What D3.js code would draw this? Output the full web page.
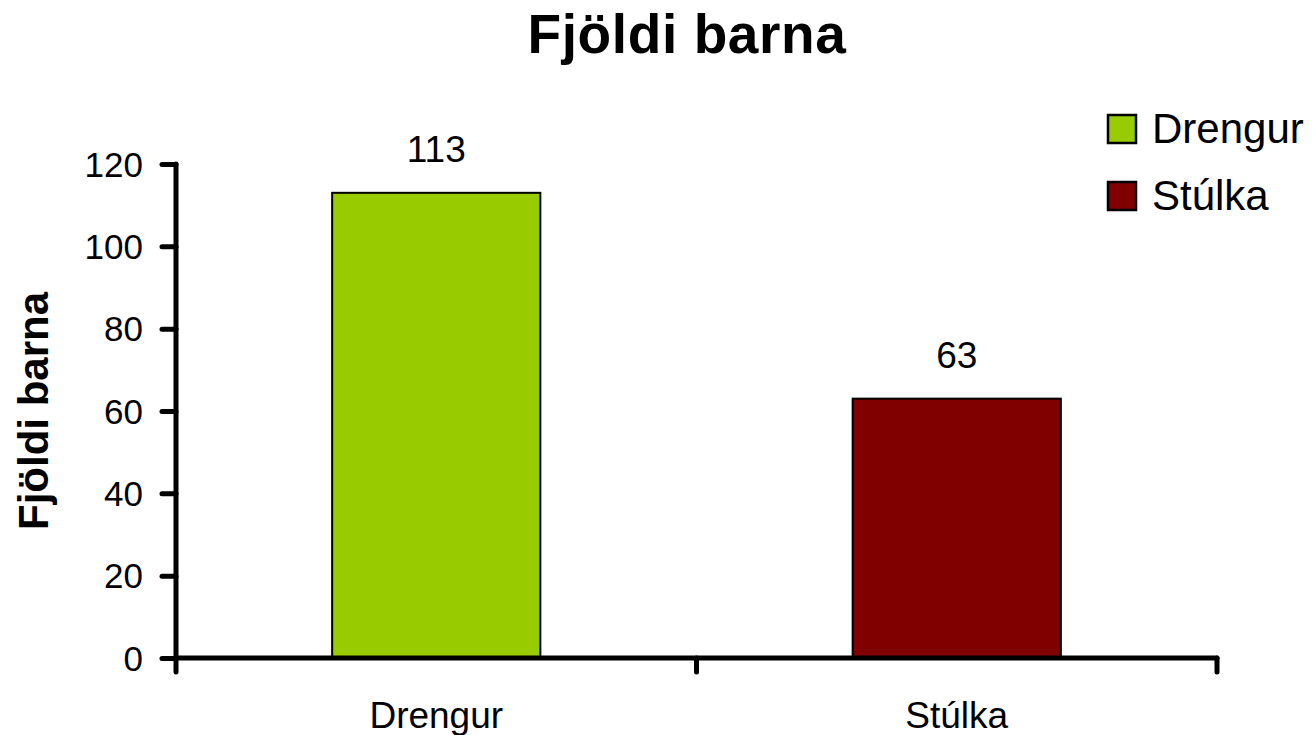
<!DOCTYPE html>
<html>
<head>
<meta charset="utf-8">
<script src="https://cdn.jsdelivr.net/npm/d3@7"></script>
<style>
  html, body { margin: 0; padding: 0; background: #fff; }
  svg { display: block; font-family: "Liberation Sans", Arial, sans-serif; }
</style>
</head>
<body>
<svg id="chart" width="1315" height="735"></svg>
<script>
const categories = ["Drengur", "Stúlka"];
const values = [113, 63];
const colors = ["#99CC00", "#800000"];
const yTicks = [0, 20, 40, 60, 80, 100, 120];
const titleText = "Fjöldi barna";
const yAxisTitle = "Fjöldi barna";

const svg = d3.select("#chart");
const plot = { left: 176, right: 1217, top: 164, bottom: 658 };

const x = d3.scaleBand().domain(categories)
  .range([plot.left, plot.right]).paddingInner(0.6).paddingOuter(0.3);
const xCat = d3.scaleBand().domain(categories).range([plot.left, plot.right]).padding(0);
const y = d3.scaleLinear().domain([0, 120]).range([plot.bottom, plot.top]);

// Title
svg.append("text")
  .attr("x", 687).attr("y", 53)
  .attr("text-anchor", "middle")
  .attr("font-size", 55).attr("font-weight", "bold")
  .attr("letter-spacing", 0.6)
  .text(titleText);

// Y-axis title
svg.append("text")
  .attr("transform", `translate(48,${(plot.top + plot.bottom) / 2}) rotate(-90)`)
  .attr("text-anchor", "middle")
  .attr("font-size", 42).attr("font-weight", "bold")
  .text(yAxisTitle);

// Bars
svg.selectAll("rect.bar").data(categories).join("rect")
  .attr("class", "bar")
  .attr("x", d => x(d))
  .attr("y", (d, i) => y(values[i]))
  .attr("width", x.bandwidth())
  .attr("height", (d, i) => y(0) - y(values[i]))
  .attr("fill", (d, i) => colors[i])
  .attr("stroke", "#000").attr("stroke-width", 2);

// Value labels
svg.selectAll("text.val").data(categories).join("text")
  .attr("class", "val")
  .attr("x", d => x(d) + x.bandwidth() / 2)
  .attr("y", (d, i) => y(values[i]) - 31)
  .attr("text-anchor", "middle")
  .attr("font-size", 37)
  .text((d, i) => values[i]);

// Y axis
const yAxis = d3.axisLeft(y).tickValues(yTicks).tickSize(14).tickPadding(19).tickFormat(d3.format("d"));
const gy = svg.append("g").attr("transform", `translate(${plot.left},0)`).call(yAxis);
gy.select(".domain").remove();
gy.selectAll(".tick line").attr("stroke", "#000").attr("stroke-width", 5).attr("stroke-linecap", "round");
gy.selectAll(".tick text").attr("font-size", 35).attr("fill", "#000")
  .attr("font-family", "Liberation Sans, Arial, sans-serif").attr("dy", "0.35em");
gy.append("line").attr("x1", 0).attr("x2", 0).attr("y1", plot.top).attr("y2", plot.bottom)
  .attr("stroke", "#000").attr("stroke-width", 5).attr("stroke-linecap", "round");

// X axis
const xAxis = d3.axisBottom(xCat).tickSize(0).tickPadding(44);
const gx = svg.append("g").attr("transform", `translate(0,${plot.bottom})`).call(xAxis);
gx.select(".domain").remove();
gx.selectAll(".tick text").attr("font-size", 37).attr("fill", "#000")
  .attr("font-family", "Liberation Sans, Arial, sans-serif");
gx.append("line").attr("x1", plot.left).attr("x2", plot.right).attr("y1", 0).attr("y2", 0)
  .attr("stroke", "#000").attr("stroke-width", 5).attr("stroke-linecap", "round");
const boundaries = [plot.left].concat(categories.map(c => xCat(c) + xCat.bandwidth()));
gx.selectAll("line.bt").data(boundaries).join("line")
  .attr("class", "bt")
  .attr("x1", d => d).attr("x2", d => d).attr("y1", 0).attr("y2", 14)
  .attr("stroke", "#000").attr("stroke-width", 5).attr("stroke-linecap", "round");

// Legend
const legend = svg.append("g");
const lg = legend.selectAll("g").data(categories).join("g")
  .attr("transform", (d, i) => `translate(1108,${115 + i * 67})`);
lg.append("rect").attr("width", 28).attr("height", 28)
  .attr("fill", (d, i) => colors[i]).attr("stroke", "#000").attr("stroke-width", 2.5);
lg.append("text").attr("x", 44).attr("y", 28)
  .attr("font-size", 42).text(d => d);
</script>
</body>
</html>
